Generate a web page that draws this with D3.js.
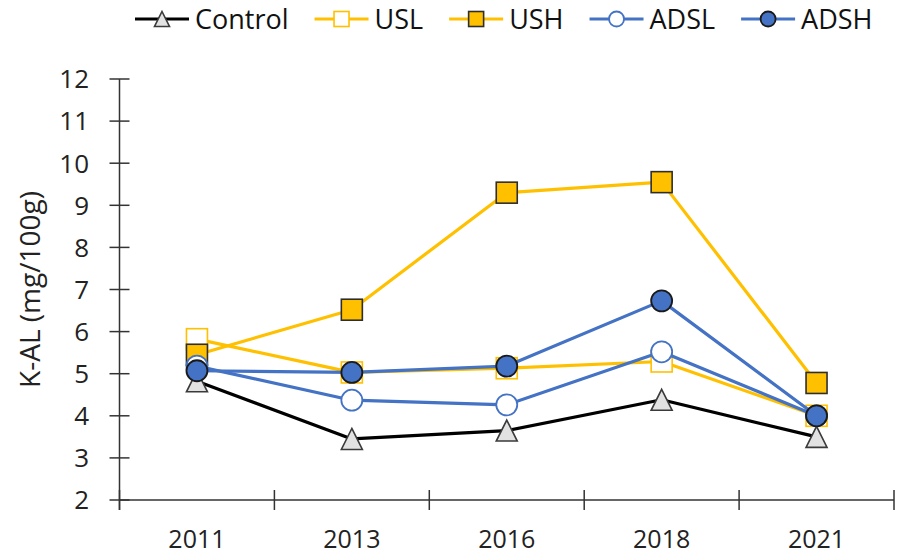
<!DOCTYPE html>
<html>
<head>
<meta charset="utf-8">
<script src="https://cdn.jsdelivr.net/npm/d3@7"></script>
<style>
  body { margin: 0; background: #fff; }
  svg { display: block; font-family: "Open Sans", sans-serif; }
</style>
</head>
<body>
<div id="chart"></div>
<script>
var years = ["2011", "2013", "2016", "2018", "2021"];
var yTicks = [2, 3, 4, 5, 6, 7, 8, 9, 10, 11, 12];
var seriesNames = ["Control", "USL", "USH", "ADSL", "ADSH"];
var control = [4.82, 3.45, 3.65, 4.38, 3.5];
var usl = [5.82, 5.03, 5.13, 5.29, 4.0];
var ush = [5.45, 6.52, 9.30, 9.55, 4.78];
var adsl = [5.18, 4.37, 4.26, 5.52, 4.0];
var adsh = [5.07, 5.03, 5.18, 6.73, 4.0];

var width = 906, height = 556;
var margin = {top: 79, right: 12, bottom: 56, left: 119.5};

var styles = {
  "Control": {line: "#000000", shape: "triangle", fill: "#e2e2e2", stroke: "#3a3a3a"},
  "USL": {line: "#ffc000", shape: "square", fill: "#ffffff", stroke: "#ffc000"},
  "USH": {line: "#ffc000", shape: "square", fill: "#ffc000", stroke: "#2e2e2e"},
  "ADSL": {line: "#4472c4", shape: "circle", fill: "#ffffff", stroke: "#4472c4"},
  "ADSH": {line: "#4472c4", shape: "circle", fill: "#4472c4", stroke: "#1a1a1a"}
};
var values = {"Control": control, "USL": usl, "USH": ush, "ADSL": adsl, "ADSH": adsh};

var svg = d3.select("#chart").append("svg")
  .attr("width", width)
  .attr("height", height);

var x = d3.scaleBand()
  .domain(years)
  .range([margin.left, width - margin.right])
  .padding(0);
var y = d3.scaleLinear()
  .domain([2, 12])
  .range([height - margin.bottom, margin.top]);

var axisColor = "#333";
var y0 = y(2);

// y axis
svg.append("line")
  .attr("x1", margin.left).attr("x2", margin.left)
  .attr("y1", y(12)).attr("y2", y0 + 10)
  .attr("stroke", axisColor).attr("stroke-width", 1.5);
svg.selectAll(".ytick").data(yTicks).enter().append("line")
  .attr("x1", margin.left - 10).attr("x2", margin.left + 10)
  .attr("y1", d => y(d)).attr("y2", d => y(d))
  .attr("stroke", axisColor).attr("stroke-width", 1.5);
svg.selectAll(".ylab").data(yTicks).enter().append("text")
  .attr("x", 89)
  .attr("y", d => y(d))
  .attr("dy", "0.36em")
  .attr("text-anchor", "end")
  .attr("font-size", 26)
  .attr("fill", "#222")
  .text(d => d);

// x axis
svg.append("line")
  .attr("x1", margin.left).attr("x2", width - margin.right)
  .attr("y1", y0).attr("y2", y0)
  .attr("stroke", axisColor).attr("stroke-width", 1.5);
var bounds = years.map(d => x(d)).concat([x(years[years.length - 1]) + x.bandwidth()]);
svg.selectAll(".xtick").data(bounds).enter().append("line")
  .attr("x1", d => d).attr("x2", d => d)
  .attr("y1", y0 - 10).attr("y2", y0 + 10)
  .attr("stroke", axisColor).attr("stroke-width", 1.5);
svg.selectAll(".xlab").data(years).enter().append("text")
  .attr("x", d => x(d) + x.bandwidth() / 2)
  .attr("y", 548)
  .attr("text-anchor", "middle")
  .attr("font-size", 25)
  .attr("fill", "#222")
  .text(d => d);

svg.append("text")
  .attr("transform", "translate(40," + ((y(12) + y0) / 2) + ") rotate(-90)")
  .attr("text-anchor", "middle")
  .attr("font-size", 28)
  .attr("fill", "#222")
  .text("K-AL (mg/100g)");

function drawMarker(g, shape, cx, cy, size, st) {
  var h = size / 2;
  if (shape == "square") {
    g.append("rect")
      .attr("x", cx - h).attr("y", cy - h)
      .attr("width", size).attr("height", size)
      .attr("fill", st.fill).attr("stroke", st.stroke).attr("stroke-width", 1.6);
  } else if (shape == "circle") {
    g.append("circle")
      .attr("cx", cx).attr("cy", cy).attr("r", h)
      .attr("fill", st.fill).attr("stroke", st.stroke).attr("stroke-width", 1.8);
  } else {
    g.append("path")
      .attr("d", "M" + cx + "," + (cy - h) + "L" + (cx + h) + "," + (cy + h) + "L" + (cx - h) + "," + (cy + h) + "Z")
      .attr("fill", st.fill).attr("stroke", st.stroke).attr("stroke-width", 1.6);
  }
}

var line = d3.line()
  .x((d, i) => x(years[i]) + x.bandwidth() / 2)
  .y(d => y(d));

seriesNames.forEach(function(name) {
  var st = styles[name];
  var g = svg.append("g");
  g.append("path")
    .attr("d", line(values[name]))
    .attr("fill", "none")
    .attr("stroke", st.line)
    .attr("stroke-width", 3.2)
    .attr("stroke-linejoin", "round");
  values[name].forEach(function(v, i) {
    drawMarker(g, st.shape, x(years[i]) + x.bandwidth() / 2, y(v), 21, st);
  });
});

// legend
var legend = svg.append("g");
var lx = 135, ly = 19;
seriesNames.forEach(function(name) {
  var st = styles[name];
  var item = legend.append("g");
  item.append("line")
    .attr("x1", lx).attr("x2", lx + 54)
    .attr("y1", ly).attr("y2", ly)
    .attr("stroke", st.line).attr("stroke-width", 3);
  drawMarker(item, st.shape, lx + 27, ly, 15, st);
  var t = item.append("text")
    .attr("x", lx + 60)
    .attr("y", ly)
    .attr("dy", "0.36em")
    .attr("font-size", 27)
    .attr("fill", "#111")
    .text(name);
  lx = lx + 60 + t.node().getComputedTextLength() + 26;
});
</script>
</body>
</html>
